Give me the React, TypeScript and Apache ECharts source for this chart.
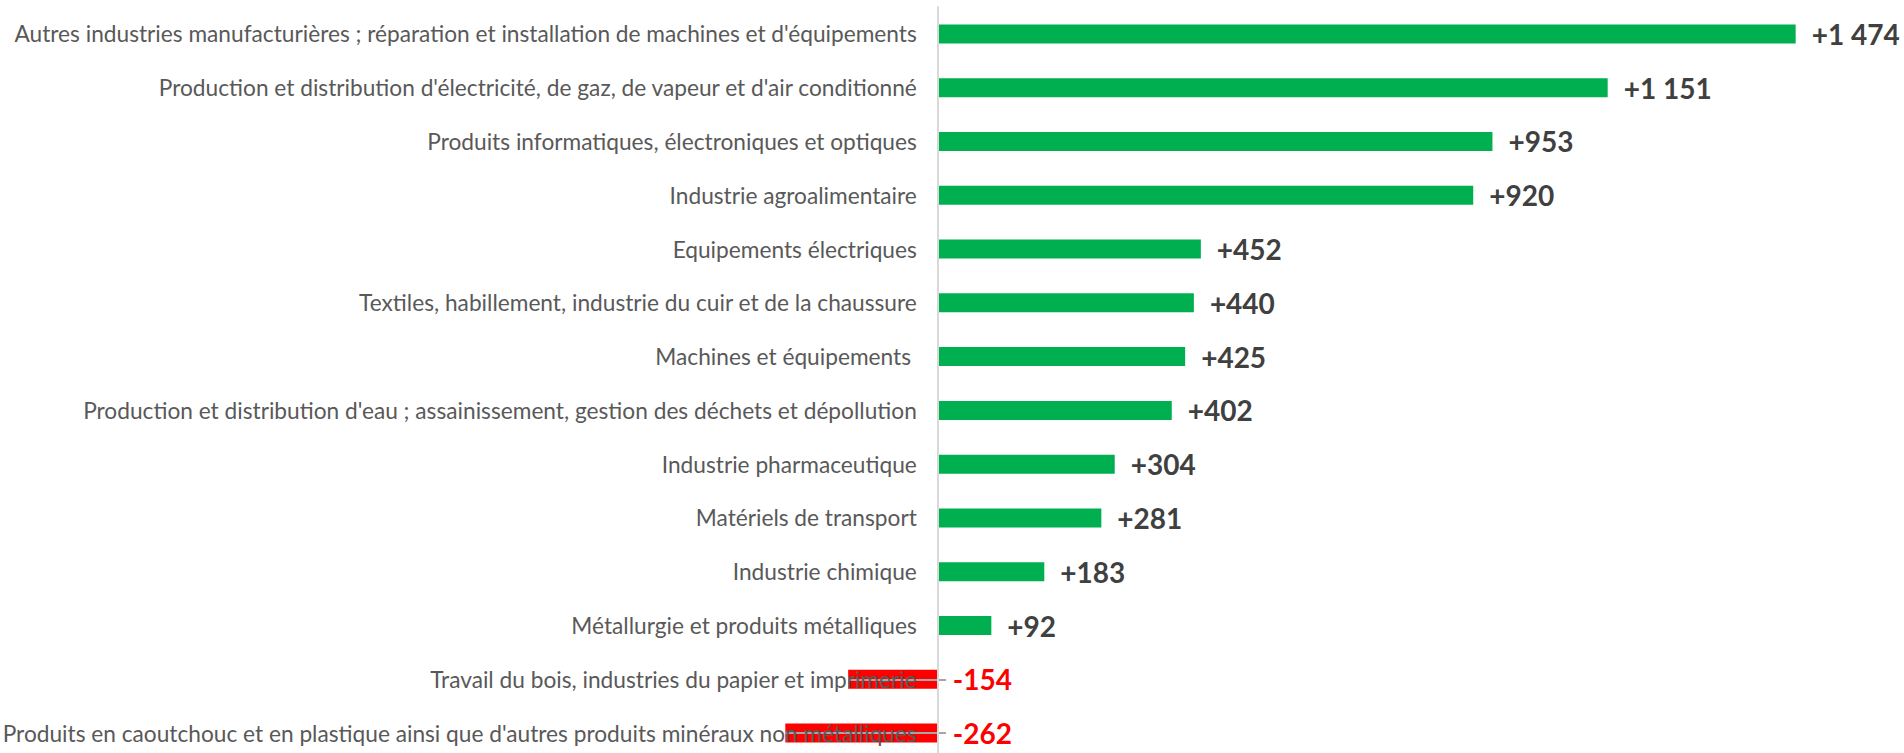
import React, { useEffect, useRef } from "react";
import * as echarts from "echarts";

const categories = [
  "Autres industries manufacturières ; réparation et installation de machines et d'équipements",
  "Production et distribution d'électricité, de gaz, de vapeur et d'air conditionné",
  "Produits informatiques, électroniques et optiques",
  "Industrie agroalimentaire",
  "Equipements électriques",
  "Textiles, habillement, industrie du cuir et de la chaussure",
  "Machines et équipements ",
  "Production et distribution d'eau ; assainissement, gestion des déchets et dépollution",
  "Industrie pharmaceutique",
  "Matériels de transport",
  "Industrie chimique",
  "Métallurgie et produits métalliques",
  "Travail du bois, industries du papier et imprimerie",
  "Produits en caoutchouc et en plastique ainsi que d'autres produits minéraux non métalliques",
];

const values = [1474, 1151, 953, 920, 452, 440, 425, 402, 304, 281, 183, 92, -154, -262];

const X_MIN = -400;
const X_MAX = 1600;
const LEADER_END = 14;

const GRID_LEFT = 705;
const GRID_W = 1164;

const fmt = (v: number) => {
  const s = Math.abs(v).toString().replace(/\B(?=(\d{3})+(?!\d))/g, " ");
  return (v >= 0 ? "+" : "-") + s;
};

export default function App() {
  const ref = useRef<HTMLDivElement>(null);
  useEffect(() => {
    document.body.style.margin = "0";
    if (!ref.current) return;
    const chart = echarts.init(ref.current, undefined, { renderer: "svg" });
    const leaders = values
      .map((v, i) => ({ v, i }))
      .filter((d) => d.v < 0)
      .map((d) => [
        { coord: [d.v, d.i] },
        { coord: [LEADER_END, d.i] },
      ]);
    const zeroOffset = (X_MIN / (X_MAX - X_MIN)) * GRID_W;
    chart.setOption({
      animation: false,
      grid: {
        left: GRID_LEFT,
        width: GRID_W,
        top: 7,
        height: 753,
        containLabel: false,
        outerBoundsMode: "none",
      },
      xAxis: {
        type: "value",
        min: X_MIN,
        max: X_MAX,
        show: false,
        splitLine: { show: false },
      },
      yAxis: {
        type: "category",
        data: categories,
        inverse: true,
        z: 10,
        offset: zeroOffset,
        axisLine: { show: true, onZero: false, lineStyle: { color: "#D9D9D9", width: 2 } },
        axisTick: { show: false },
        axisLabel: {
          margin: 21,
          fontFamily: "Lato",
          fontSize: 22.7,
          color: "#595959",
        },
      },
      series: [
        {
          type: "bar",
          barWidth: 19,
          data: values.map((v) => ({
            value: v,
            itemStyle: { color: v >= 0 ? "#00B050" : "#FF0000" },
            label: {
              show: true,
              position: "right",
              distance: v >= 0 ? 16 : 15,
              formatter: () => fmt(v),
              fontFamily: "Lato",
              fontWeight: "bold",
              fontSize: 28,
              color: v >= 0 ? "#404040" : "#FF0000",
            },
          })),
          markLine: {
            silent: true,
            symbol: ["none", "none"],
            label: { show: false },
            lineStyle: { color: "#A6A6A6", width: 2, type: "solid" },
            data: leaders,
          },
        },
      ],
    });
    return () => chart.dispose();
  }, []);
  return <div ref={ref} style={{ width: 1904, height: 753 }} />;
}
